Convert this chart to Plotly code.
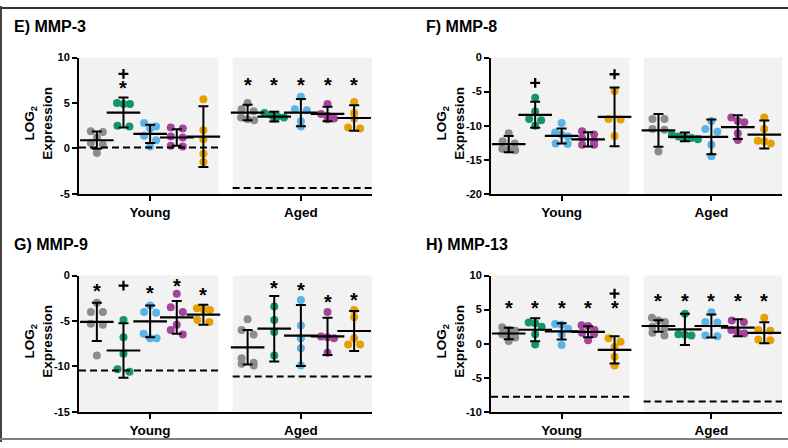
import plotly.graph_objects as go

# ---------------- data ----------------
groups = ["Young", "Aged"]
group_colors = ["#8c8c8c", "#12966c", "#5ab4e5", "#a5449b", "#e6a000"]

# each panel: 10 columns = 5 Young + 5 Aged
E_points = [
    [1.9, 1.8, 1.2, 0.6, 0.4, -0.5],
    [5.0, 4.9, 4.9, 2.5, 2.4],
    [2.8, 2.4, 2.2, 1.4, 0.9, 0.2],
    [2.3, 2.2, 1.3, 1.2, 0.3, 0.2],
    [5.4, 2.0, 1.0, -0.6, -1.5],
    [5.0, 4.3, 4.1, 3.4, 3.2, 3.1],
    [3.9, 3.7, 3.5, 3.3, 3.4],
    [5.7, 4.3, 4.2, 3.0, 2.4],
    [4.9, 3.8, 3.6, 3.2, 3.3],
    [5.1, 3.9, 3.3, 2.3, 2.2],
]
E_mean = [0.9, 3.95, 1.6, 1.2, 1.3, 3.95, 3.5, 3.95, 3.8, 3.35]
E_sd = [0.95, 1.65, 1.0, 0.9, 3.35, 0.85, 0.55, 1.5, 0.8, 1.4]
E_star = ["", "*", "", "", "", "*", "*", "*", "*", "*"]
E_star_y = [None, 7.1, None, None, None, 7.45, 7.45, 7.45, 7.45, 7.45]
E_plus_y = [None, 8.2, None, None, None, None, None, None, None, None]
E_baseline = [0.1, -4.35]

F_points = [
    [-11.1, -12.3, -12.6, -13.4, -13.6, -13.5],
    [-5.9, -7.9, -9.0, -9.2, -10.0],
    [-9.6, -11.0, -11.3, -11.6, -12.6, -12.7],
    [-10.8, -11.3, -11.8, -12.3, -12.8, -12.8],
    [-4.9, -9.0, -9.1, -11.5],
    [-9.0, -9.0, -10.5, -10.6, -13.8],
    [-11.3, -11.6, -11.8, -12.0, -11.7],
    [-9.3, -10.5, -10.9, -12.8, -14.5],
    [-8.8, -9.3, -9.5, -11.1, -12.1],
    [-8.8, -10.5, -12.2, -12.3, -12.6],
]
F_mean = [-12.7, -8.4, -11.5, -12.0, -8.7, -10.7, -11.65, -11.65, -10.2, -11.3]
F_sd = [1.2, 1.9, 1.1, 1.05, 4.3, 2.4, 0.65, 2.55, 1.75, 2.05]
F_star = ["", "", "", "", "", "", "", "", "", ""]
F_star_y = [None] * 10
F_plus_y = [None, -3.7, None, None, -2.45, None, None, None, None, None]
F_baseline = []

G_points = [
    [-3.0, -4.0, -4.0, -5.3, -5.4, -8.8],
    [-4.9, -6.8, -8.6, -10.3, -10.6],
    [-3.3, -4.0, -4.1, -6.4, -6.9, -6.9],
    [-2.0, -3.5, -4.0, -5.4, -6.0, -6.5],
    [-3.6, -3.7, -3.8, -4.9, -5.1],
    [-4.8, -6.0, -6.5, -9.1, -9.6, -9.7, -9.9],
    [-3.4, -4.9, -6.2, -8.8],
    [-2.7, -5.5, -6.9, -8.0, -9.9],
    [-4.0, -6.7, -6.8, -6.9, -8.5],
    [-3.8, -4.6, -6.9, -7.6, -7.6],
]
G_mean = [-5.1, -8.25, -5.05, -4.6, -4.3, -7.9, -5.85, -6.6, -6.7, -6.1]
G_sd = [2.1, 3.0, 1.75, 1.8, 1.1, 1.9, 3.6, 3.35, 2.05, 2.2]
G_star = ["*", "", "*", "*", "*", "", "*", "*", "*", "*"]
G_star_y = [-1.3, None, -1.45, -0.75, -1.65, None, -0.95, -1.1, -2.45, -2.2]
G_plus_y = [None, -1.1, None, None, None, None, None, None, None, None]
G_baseline = [-10.45, -11.1]

H_points = [
    [2.4, 2.0, 1.9, 1.4, 1.2, 0.9, 0.4],
    [3.1, 3.0, 2.5, 1.4, -0.1],
    [2.9, 2.8, 2.2, 1.4, -0.2],
    [2.7, 2.6, 2.0, 1.6, 1.4, 0.5],
    [0.8, 0.3, -0.5, -1.9, -3.2],
    [3.8, 3.4, 3.2, 2.5, 2.2, 1.6, 1.2],
    [4.4, 1.4, 1.3, 1.2],
    [4.6, 3.2, 3.1, 1.2, 1.1],
    [3.4, 3.2, 2.0, 1.6, 1.5],
    [3.8, 2.0, 1.9, 0.6, 0.5],
]
H_mean = [1.5, 2.05, 1.8, 1.75, -0.9, 2.6, 2.1, 2.6, 2.35, 1.6]
H_sd = [0.85, 1.7, 1.2, 0.8, 2.0, 0.85, 2.3, 1.7, 1.25, 1.55]
H_star = ["*"] * 10
H_star_y = [5.9] * 5 + [6.8] * 5
H_plus_y = [None, None, None, None, 7.35, None, None, None, None, None]
H_baseline = [-7.8, -8.5]

panel_titles = ["E) MMP-3", "F) MMP-8", "G) MMP-9", "H) MMP-13"]
y_ranges = [[-5, 10], [-20, 0], [-15, 0], [-10, 10]]
y_ticks = [[-5, 0, 5, 10], [-20, -15, -10, -5, 0], [-15, -10, -5, 0], [-10, -5, 0, 5, 10]]

# ---------------- layout geometry ----------------
W, H = 788, 448
FONT = "Arial, Liberation Sans, Helvetica, sans-serif"
# pixel boxes of the four plot areas (left, right, top, bottom)
boxes = [(79, 372, 53, 193), (491, 782, 53, 193), (79, 372, 277, 417), (491, 782, 277, 417)]
XMIN, XMAX = -0.67, 10.33
AGED_OFF = 5.66
col_x = [i for i in range(5)] + [AGED_OFF + i for i in range(5)]
group_x = [2, AGED_OFF + 2]
bg_spans = [(XMIN, 4.56), (5.1, XMAX)]


def swarm_offsets(vals, px_y, px_x):
    order = sorted(range(len(vals)), key=lambda i: -vals[i])
    rows = []
    for i in order:
        if rows and abs(vals[rows[-1][0]] - vals[i]) * px_y < 5.5:
            rows[-1].append(i)
        else:
            rows.append([i])
    offs = [0.0] * len(vals)
    for row in rows:
        n = len(row)
        if n == 1:
            continue
        span = max(12.0, (n - 1) * 6.5)
        for k, i in enumerate(row):
            offs[i] = (-span / 2 + span * k / (n - 1)) / px_x
    return offs


fig = go.Figure()
annotations = []
shapes = []

panels = [
    (E_points, E_mean, E_sd, E_star, E_star_y, E_plus_y, E_baseline),
    (F_points, F_mean, F_sd, F_star, F_star_y, F_plus_y, F_baseline),
    (G_points, G_mean, G_sd, G_star, G_star_y, G_plus_y, G_baseline),
    (H_points, H_mean, H_sd, H_star, H_star_y, H_plus_y, H_baseline),
]

for p, (pts, means, sds, stars, star_y, plus_y, base) in enumerate(panels):
    n = "" if p == 0 else str(p + 1)
    xa, ya = "x" + n, "y" + n
    l, r, t, b = boxes[p]
    yr = y_ranges[p]
    px_y = (b - t) / (yr[1] - yr[0])
    px_x = (r - l) / (XMAX - XMIN)

    # background panels
    for x0, x1 in bg_spans:
        shapes.append(dict(type="rect", xref=xa, yref=ya + " domain", x0=x0, x1=x1, y0=0, y1=1,
                           fillcolor="#f2f2f2", line=dict(width=0), layer="below"))
    # dashed baselines
    for gi, yv in enumerate(base):
        x0, x1 = bg_spans[gi]
        shapes.append(dict(type="line", xref=xa, yref=ya, x0=x0, x1=x1, y0=yv, y1=yv,
                           line=dict(color="black", width=2, dash="7px,4px"), layer="above"))

    # individual points
    for c, vals in enumerate(pts):
        offs = swarm_offsets(vals, px_y, px_x)
        fig.add_trace(go.Scatter(
            x=[col_x[c] + o for o in offs], y=vals, mode="markers", xaxis=xa, yaxis=ya,
            marker=dict(size=8, color=group_colors[c % 5], line=dict(width=0)),
            showlegend=False, hoverinfo="skip"))

    # mean +/- SD
    fig.add_trace(go.Scatter(
        x=col_x, y=means, mode="markers", xaxis=xa, yaxis=ya,
        marker=dict(symbol="line-ew", size=24, line=dict(color="black", width=2.2), color="black"),
        error_y=dict(type="data", array=sds, visible=True, color="black", thickness=2, width=5),
        showlegend=False, hoverinfo="skip"))

    # "+" significance marks (drawn as thick crosses)
    px_ = [col_x[c] for c in range(10) if plus_y[c] is not None]
    py_ = [plus_y[c] for c in range(10) if plus_y[c] is not None]
    if px_:
        fig.add_trace(go.Scatter(
            x=px_, y=py_, mode="markers", xaxis=xa, yaxis=ya,
            marker=dict(symbol="cross-thin-open", size=7, color="black",
                        line=dict(color="black", width=2.3)),
            showlegend=False, hoverinfo="skip"))

    # "*" significance marks
    for c in range(10):
        if stars[c]:
            annotations.append(dict(x=col_x[c], y=star_y[c], xref=xa, yref=ya, text="<b>*</b>",
                                    showarrow=False, yshift=-4,
                                    font=dict(family=FONT, size=20, color="black")))

    # axes
    axis_x = dict(domain=[l / W, r / W], range=[XMIN, XMAX], anchor=ya, showgrid=False, zeroline=False,
                  showline=True, linecolor="black", linewidth=2, ticks="outside", ticklen=5, tickwidth=2,
                  tickcolor="black", tickvals=group_x, ticktext=["<b>%s</b>" % g for g in groups],
                  tickfont=dict(family=FONT, size=13.5, color="black"), fixedrange=True)
    axis_y = dict(domain=[1 - b / H, 1 - t / H], range=yr, anchor=xa, showgrid=False, zeroline=False,
                  showline=True, linecolor="black", linewidth=2, ticks="outside", ticklen=5, tickwidth=2,
                  tickcolor="black", tickvals=y_ticks[p], ticktext=["<b>%d</b>" % v for v in y_ticks[p]],
                  tickfont=dict(family=FONT, size=11, color="black"), fixedrange=True)
    fig.layout["xaxis" + n] = axis_x
    fig.layout["yaxis" + n] = axis_y

    # panel title
    annotations.append(dict(x=(l - 67) / W, y=1 - (t - 32) / H, xref="paper", yref="paper",
                            xanchor="left", yanchor="middle", showarrow=False,
                            text="<b>%s</b>" % panel_titles[p],
                            font=dict(family=FONT, size=16, color="black")))
    # y-axis title
    annotations.append(dict(x=(l - 40) / W, y=1 - ((t + b) / 2 - 2) / H, xref="paper", yref="paper",
                            xanchor="center", yanchor="middle", showarrow=False, textangle=-90,
                            text="<b>LOG<sub>2</sub></b><br><b>Expression</b>",
                            font=dict(family=FONT, size=13.5, color="black")))

# figure frame
shapes.append(dict(type="line", xref="paper", yref="paper", x0=0, x1=1, y0=1 - 2 / H, y1=1 - 2 / H,
                   line=dict(color="#333333", width=2)))
shapes.append(dict(type="line", xref="paper", yref="paper", x0=1 / W, x1=1 / W, y0=0, y1=1,
                   line=dict(color="#444444", width=2)))
shapes.append(dict(type="line", xref="paper", yref="paper", x0=0, x1=1, y0=3 / H, y1=3 / H,
                   line=dict(color="#808080", width=2)))

fig.update_layout(width=W, height=H, margin=dict(l=0, r=0, t=0, b=0),
                  paper_bgcolor="white", plot_bgcolor="white",
                  shapes=shapes, annotations=annotations, showlegend=False)

fig.write_html("out.html", config={"displayModeBar": False})
